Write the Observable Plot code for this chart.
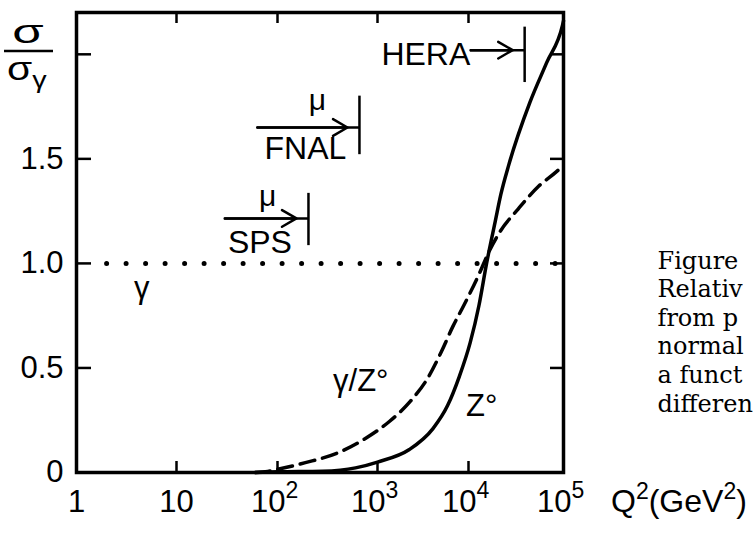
<!DOCTYPE html>
<html><head><meta charset="utf-8">
<script src="https://cdn.jsdelivr.net/npm/d3@7"></script>
<script src="https://cdn.jsdelivr.net/npm/@observablehq/plot@0.6"></script>
<style>
html,body{margin:0;padding:0;background:#fff;}
#chart{width:756px;height:537px;overflow:hidden;}
svg{display:block;}
</style></head><body><div id="chart"></div>
<script>
// Axis ticks
const xTicks = [1, 10, 100, 1e3, 1e4, 1e5];
const xPlainTicks = [1, 10];
const xPlainLabels = ["1", "10"];
const xPowerTicks = [100, 1e3, 1e4, 1e5];
const xPowerBase = ["10", "10", "10", "10"];
const xPowerExp = ["2", "3", "4", "5"];
const xInnerTicks = [10, 100, 1e3, 1e4];
const yTicks = [0, 0.5, 1.0, 1.5];
const yTickLabels = ["0", "0.5", "1.0", "1.5"];
const yInnerTicks = [0.5, 1.0, 1.5, 2.0];

// Z° exchange (solid)
const q2Z = [60, 100, 282, 603, 1000, 2240, 4070, 5890, 7940, 10400, 12900, 15500, 19100, 21900, 26500, 44300, 66500, 97700, 1e5];
const sigmaZ = [0, 0.003, 0.006, 0.022, 0.05, 0.11, 0.21, 0.32, 0.46, 0.62, 0.80, 1.00, 1.20, 1.33, 1.47, 1.77, 1.96, 2.14, 2.16];

// γ/Z° interference (dashed)
const q2GZ = [60, 80, 100, 190, 412, 770, 1350, 2290, 3550, 5000, 6760, 8900, 13100, 15800, 21700, 33300, 55000, 85000, 1e5];
const sigmaGZ = [0, 0.005, 0.015, 0.047, 0.096, 0.165, 0.244, 0.34, 0.45, 0.575, 0.70, 0.80, 0.955, 1.04, 1.155, 1.26, 1.37, 1.44, 1.47];

// pure γ (dotted)
const q2Gamma = [2, 1e5];
const sigmaGamma = [1, 1];

// Experimental reach
const machines = ["SPS", "FNAL", "HERA"];
const reachFrom = [30, 63, 10500];
const reachTo = [204, 660, 39000];
const reachLevel = [1.215, 1.65, 2.02];
const barLow = [1.085, 1.52, 1.865];
const barHigh = [1.335, 1.80, 2.13];
const machineLabelQ2 = [67, 190, 3400];
const machineLabelV = [1.10, 1.55, 2.0];
const muLabelQ2 = [80, 250];
const muLabelV = [1.32, 1.78];

// Curve labels
const curveLabels = ["γ", "γ/Z°", "Z°"];
const curveLabelQ2 = [4.5, 680, 13800];
const curveLabelV = [0.88, 0.435, 0.316];

const captionLines = ["Figure", "Relativ", "from p", "normal", "a funct", "differen"];

const W = 756, H = 537, mL = 76, mR = 756 - 563, mT = 12, mB = 65;
const plotW = W - mL - mR, plotH = H - mT - mB;
const sans = "Liberation Sans, Arial, sans-serif";

const zData = q2Z.map((q, i) => ({q, v: sigmaZ[i]}));
const gzData = q2GZ.map((q, i) => ({q, v: sigmaGZ[i]}));
const gData = q2Gamma.map((q, i) => ({q, v: sigmaGamma[i]}));
const reach = machines.map((m, i) => ({m, q0: reachFrom[i], q1: reachTo[i], v: reachLevel[i], lo: barLow[i], hi: barHigh[i]}));
const mLabels = machines.map((m, i) => ({m, q: machineLabelQ2[i], v: machineLabelV[i]}));
const muLabels = muLabelQ2.map((q, i) => ({q, v: muLabelV[i]}));
const cLabels = curveLabels.map((t, i) => ({t, q: curveLabelQ2[i], v: curveLabelV[i]}));

const svg = Plot.plot({
  width: W, height: H,
  marginLeft: mL, marginRight: mR, marginTop: mT, marginBottom: mB,
  style: {fontFamily: sans, background: "#fff", color: "#000", overflow: "visible"},
  x: {type: "log", domain: xTicks, range: [76, 176, 277, 377, 468, 563], axis: null},
  y: {domain: [0, 2.2], axis: null},
  marks: [
    // inward ticks
    Plot.tickY(yInnerTicks, {y: d => d, insetRight: plotW - 15, strokeWidth: 2.5}),
    Plot.tickY(yInnerTicks, {y: d => d, insetLeft: plotW - 13, strokeWidth: 2.5}),
    Plot.tickX(xInnerTicks, {x: d => d, insetTop: plotH - 11, strokeWidth: 2.5}),
    Plot.tickX(xInnerTicks, {x: d => d, insetBottom: plotH - 11, strokeWidth: 2.5}),
    // curves
    Plot.line(gData, {x: "q", y: "v", strokeWidth: 5, strokeDasharray: "0,19.5", strokeLinecap: "round"}),
    Plot.line(gzData, {x: "q", y: "v", strokeWidth: 3.5, strokeDasharray: "15,8", curve: "monotone-x"}),
    Plot.line(zData, {x: "q", y: "v", strokeWidth: 3.5, curve: "monotone-x"}),
    // reach arrows
    Plot.ruleY(reach, {y: "v", x1: "q0", x2: "q1", strokeWidth: 2.5}),
    Plot.arrow(reach, {x1: "q0", x2: "q1", y1: "v", y2: "v", insetEnd: 12, headLength: 10, strokeWidth: 2.5}),
    Plot.ruleX(reach, {x: "q1", y1: "lo", y2: "hi", strokeWidth: 2.5}),
    Plot.text(mLabels, {x: "q", y: "v", text: "m", fontSize: 32, fontFamily: sans}),
    Plot.text(muLabels, {x: "q", y: "v", text: () => "μ", fontSize: 30, fontFamily: sans}),
    Plot.text(cLabels, {x: "q", y: "v", text: "t", fontSize: 31, fontFamily: sans}),
    // tick labels
    Plot.text(xPlainTicks, {x: d => d, text: (d, i) => xPlainLabels[i], frameAnchor: "bottom", dy: 39, fontSize: 31, fontFamily: sans}),
    Plot.text(xPowerTicks, {x: d => d, text: (d, i) => xPowerBase[i], frameAnchor: "bottom", dy: 39, dx: 8, textAnchor: "end", fontSize: 31, fontFamily: sans}),
    Plot.text(xPowerTicks, {x: d => d, text: (d, i) => xPowerExp[i], frameAnchor: "bottom", dy: 25, dx: 8, textAnchor: "start", fontSize: 23, fontFamily: sans}),
    Plot.text(yTicks, {y: d => d, text: (d, i) => yTickLabels[i], frameAnchor: "left", dx: -13, textAnchor: "end", fontSize: 31, fontFamily: sans}),
    // caption
    Plot.text([captionLines.join("\n")], {frameAnchor: "top-right", dx: 94, dy: 236, textAnchor: "start", lineAnchor: "top", lineHeight: 1.19, fontSize: 24, fontFamily: "DejaVu Serif, serif"}),
    Plot.frame({strokeWidth: 3.5})
  ]
});

const g = d3.select(svg).append("g").attr("font-family", sans).attr("fill", "#000").attr("text-anchor", "start");
// y-axis title: σ / σγ
g.append("text").attr("transform", "translate(28,43) scale(1.5,1)").attr("text-anchor", "middle").attr("font-size", 34).text("σ");
g.append("line").attr("x1", 4).attr("x2", 53).attr("y1", 51).attr("y2", 51).attr("stroke", "#000").attr("stroke-width", 2.5);
const den = g.append("text").attr("transform", "translate(7,80) scale(1.2,1)").attr("font-size", 34);
den.append("tspan").text("σ");
den.append("tspan").attr("font-size", 24).attr("dy", 8).text("γ");
// x-axis title: Q²(GeV²)
const xt = g.append("text").attr("x", 611).attr("y", 512).attr("font-size", 32);
xt.append("tspan").text("Q");
xt.append("tspan").attr("font-size", 23).attr("dy", -13).text("2");
xt.append("tspan").attr("dy", 13).text("(GeV");
xt.append("tspan").attr("font-size", 23).attr("dy", -13).text("2");
xt.append("tspan").attr("dy", 13).text(")");

document.getElementById("chart").appendChild(svg);
</script>
</body></html>
